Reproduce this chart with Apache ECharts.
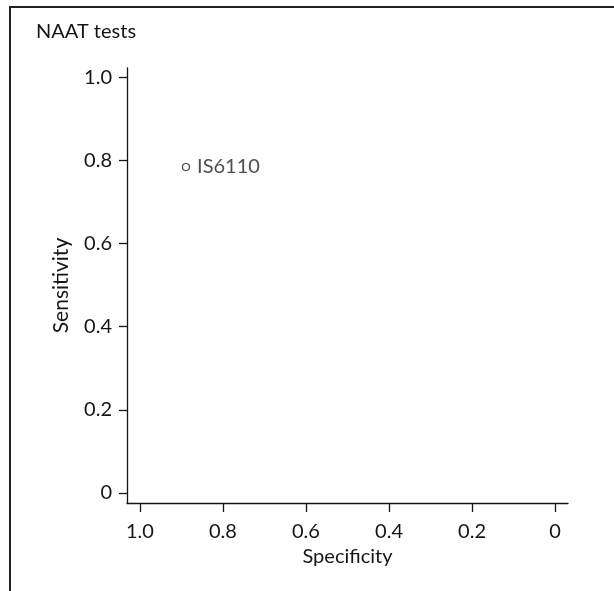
<!DOCTYPE html>
<html>
<head>
<meta charset="utf-8">
<script src="https://cdn.jsdelivr.net/npm/echarts@6/dist/echarts.min.js"></script>
<style>
  html, body { margin: 0; padding: 0; background: #fff; }
  #chart { width: 614px; height: 591px; }
</style>
</head>
<body>
<div id="chart"></div>
<script>
// Test accuracy in ROC space: sensitivity vs specificity
const testNames = ['IS6110'];
const specificity = [0.889];
const sensitivity = [0.784];
const tickValues = [0, 0.2, 0.4, 0.6, 0.8, 1.0];
const tickLabels = ['0', '0.2', '0.4', '0.6', '0.8', '1.0'];

const FONT = 'Lato, "Open Sans", sans-serif';
const INK = '#151515';

const chart = echarts.init(document.getElementById('chart'), null, { renderer: 'canvas' });

const points = testNames.map((n, i) => [specificity[i], sensitivity[i], n]);
const labelFor = v => tickLabels[tickValues.findIndex(t => Math.abs(t - v) < 1e-9)] || '';

chart.setOption({
  animation: false,
  backgroundColor: '#fff',
  grid: { left: 127, right: 46, top: 68, bottom: 88, containLabel: false },
  xAxis: {
    type: 'value',
    inverse: true,
    min: -0.031,
    max: 1.031,
    name: 'Specificity',
    nameLocation: 'middle',
    nameGap: 42,
    nameTextStyle: { fontFamily: FONT, fontSize: 20, color: INK },
    splitLine: { show: false },
    axisLine: { show: true, onZero: false, lineStyle: { color: INK, width: 1.3 } },
    axisTick: { show: true, length: 9, customValues: tickValues, lineStyle: { color: INK, width: 1.3 } },
    axisLabel: {
      customValues: tickValues,
      formatter: labelFor,
      margin: 19,
      fontFamily: FONT, fontSize: 20, color: INK
    }
  },
  yAxis: {
    type: 'value',
    min: -0.024,
    max: 1.022,
    name: 'Sensitivity',
    nameLocation: 'middle',
    nameGap: 55,
    nameRotate: 90,
    nameTextStyle: { fontFamily: FONT, fontSize: 21, color: INK },
    splitLine: { show: false },
    axisLine: { show: true, onZero: false, lineStyle: { color: INK, width: 1.3 } },
    axisTick: { show: true, length: 8, customValues: tickValues, lineStyle: { color: INK, width: 1.3 } },
    axisLabel: {
      customValues: tickValues,
      formatter: labelFor,
      margin: 15,
      fontFamily: FONT, fontSize: 20, color: INK
    }
  },
  series: [{
    type: 'scatter',
    data: points,
    symbol: 'circle',
    symbolSize: 7,
    itemStyle: { color: '#fff', borderColor: INK, borderWidth: 1.2 },
    label: {
      show: true,
      position: 'right',
      distance: 7,
      formatter: p => p.data[2],
      fontFamily: FONT, fontSize: 20, color: '#222'
    }
  }],
  graphic: [
    { type: 'line', shape: { x1: 9, y1: 7, x2: 614, y2: 7 }, style: { stroke: '#222', lineWidth: 2 } },
    { type: 'line', shape: { x1: 10, y1: 6, x2: 10, y2: 591 }, style: { stroke: '#222', lineWidth: 2 } },
    { type: 'text', left: 36, top: 22, style: { text: 'NAAT tests', font: '20px ' + FONT, fill: INK } }
  ]
});
</script>
</body>
</html>
